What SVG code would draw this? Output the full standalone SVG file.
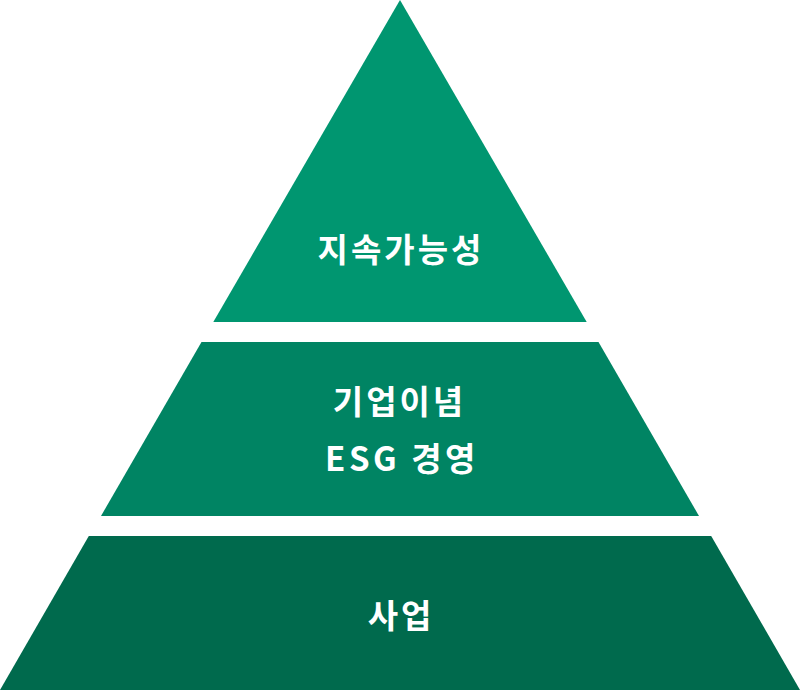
<svg xmlns="http://www.w3.org/2000/svg" width="800" height="690" viewBox="0 0 800 690">
<style>
.lbl{font-family:"Noto Sans CJK KR","Noto Sans",sans-serif;font-weight:700;font-size:33px;fill:#fff;text-anchor:middle;letter-spacing:3px}
.sp{letter-spacing:3.5px}
</style>
<rect width="800" height="690" fill="#fff"/>
<g id="top">
<polygon points="400,0 586.7,322 213.3,322" fill="#009670"/>
<text class="lbl" x="401" y="262">지속가능성</text>
</g>
<g id="middle">
<polygon points="201.5,342 598.5,342 699,516 101,516" fill="#008463"/>
<text class="lbl" x="399.5" y="414">기업이념</text>
<text class="lbl sp" x="402" y="471">ESG 경영</text>
</g>
<g id="bottom">
<polygon points="88.8,536 711.2,536 800,690 0,690" fill="#006a4d"/>
<text class="lbl" x="401" y="628">사업</text>
</g>
<g id="connectors"/>
</svg>
